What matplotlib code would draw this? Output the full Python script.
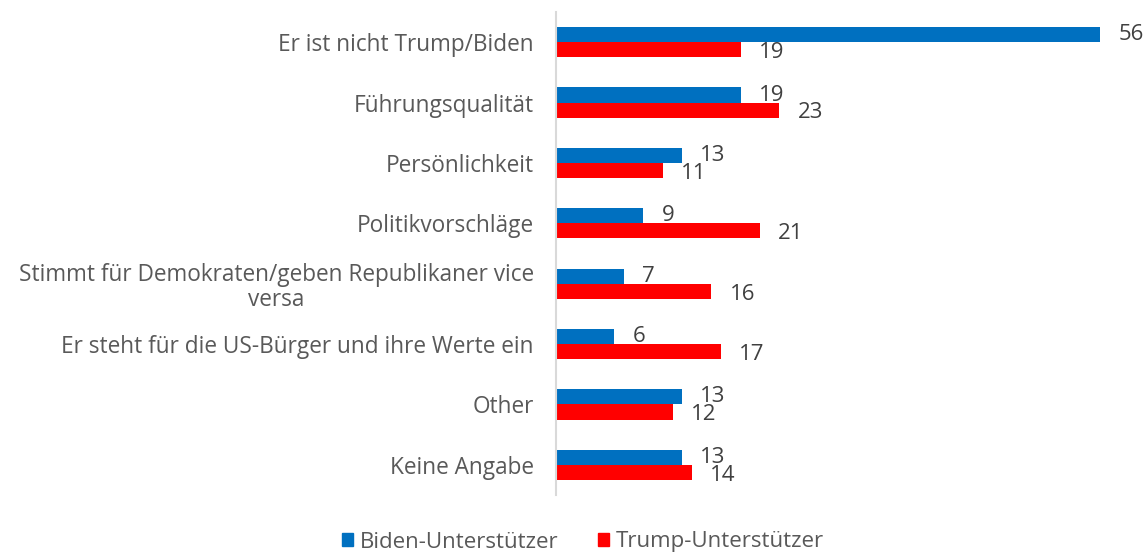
import numpy as np
import matplotlib.pyplot as plt
from matplotlib.patches import Patch

plt.rcParams['font.family'] = ['Open Sans', 'DejaVu Sans']

# Data
categories = [
    "Er ist nicht Trump/Biden",
    "Führungsqualität",
    "Persönlichkeit",
    "Politikvorschläge",
    "Stimmt für Demokraten/geben Republikaner vice\nversa",
    "Er steht für die US-Bürger und ihre Werte ein",
    "Other",
    "Keine Angabe",
]
biden = [56, 19, 13, 9, 7, 6, 13, 13]
trump = [19, 23, 11, 21, 16, 17, 12, 14]

blue = "#0070C0"
red = "#FF0000"
text_col = "#595959"

fig = plt.figure(figsize=(11.48, 5.57), dpi=100)
ax = fig.add_axes([556/1148, 1 - 495/557, (1139 - 556)/1148, (495 - 12)/557])

y = np.arange(len(categories))
h = 0.25
ax.barh(y - h/2, biden, height=h, color=blue)
ax.barh(y + h/2, trump, height=h, color=red)

for yi, v in zip(y - h/2, biden):
    ax.annotate(str(v), (v, yi), xytext=(13, 0), textcoords="offset points",
                va="center", ha="left", fontsize=16, color="#404040")
for yi, v in zip(y + h/2, trump):
    ax.annotate(str(v), (v, yi), xytext=(13, -2), textcoords="offset points",
                va="center", ha="left", fontsize=16, color="#404040")

ax.set_xlim(0, 60)
ax.set_ylim(len(categories) - 0.5, -0.5)
ax.set_yticks(y)
ax.set_yticklabels(categories, fontsize=16.3, color=text_col, multialignment="center",
                   linespacing=1.05)
ax.tick_params(axis="y", length=0, pad=16)
ax.set_xticks([])
for s in ["top", "right", "bottom"]:
    ax.spines[s].set_visible(False)
ax.spines["left"].set_color("#D9D9D9")
ax.spines["left"].set_linewidth(1.5)

handles = [Patch(color=blue, label="Biden-Unterstützer"),
           Patch(color=red, label="Trump-Unterstützer")]
fig.legend(handles=handles, loc="center", bbox_to_anchor=(583/1148, 1 - 542/557),
           ncol=2, frameon=False, fontsize=16, handlelength=0.5, handleheight=0.5,
           handletextpad=0.3, columnspacing=1.8, labelcolor=text_col)

fig.savefig("out.png", dpi=100)
